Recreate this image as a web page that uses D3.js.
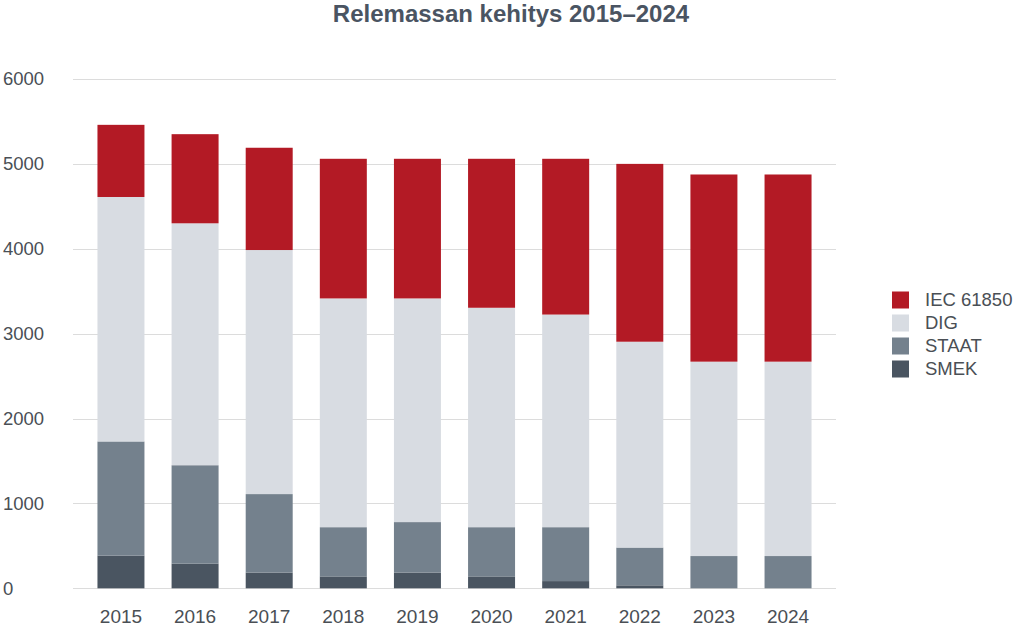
<!DOCTYPE html>
<html>
<head>
<meta charset="utf-8">
<script src="https://cdn.jsdelivr.net/npm/d3@7"></script>
<style>
  html, body { margin: 0; padding: 0; background: #ffffff; }
  svg { display: block; font-family: "Liberation Sans", Arial, sans-serif; }
</style>
</head>
<body>
<svg id="chart" width="1024" height="634"></svg>
<script>
const years = ["2015","2016","2017","2018","2019","2020","2021","2022","2023","2024"];
const seriesNames = ["SMEK", "STAAT", "DIG", "IEC 61850"];
const smek  = [385, 290, 185, 140, 185, 140, 85, 35, 0, 0];
const staat = [1345, 1160, 925, 580, 595, 580, 635, 445, 380, 380];
const dig   = [2880, 2850, 2875, 2695, 2635, 2585, 2505, 2425, 2290, 2290];
const iec   = [850, 1050, 1205, 1645, 1645, 1755, 1835, 2095, 2205, 2205];
const yTicks = [0, 1000, 2000, 3000, 4000, 5000, 6000];
const colors = {"SMEK": "#4a5561", "STAAT": "#74818d", "DIG": "#d8dce2", "IEC 61850": "#b31a25"};
const title = "Relemassan kehitys 2015\u20132024";

const rows = years.map((y, i) => ({year: y, "SMEK": smek[i], "STAAT": staat[i], "DIG": dig[i], "IEC 61850": iec[i]}));
const stacked = d3.stack().keys(seriesNames)(rows);

const svg = d3.select("#chart");
const x = d3.scaleBand().domain(years).range([73, 836]).paddingInner(0.366).paddingOuter(0.33);
const y = d3.scaleLinear().domain([0, 6000]).range([588.3, 79]);

// gridlines
svg.append("g").selectAll("line").data(yTicks).join("line")
  .attr("x1", 73).attr("x2", 836)
  .attr("y1", d => Math.round(y(d)) + 0.5).attr("y2", d => Math.round(y(d)) + 0.5)
  .attr("stroke", "#dcdcdc").attr("stroke-width", 1);

// y labels
svg.append("g").selectAll("text").data(yTicks).join("text")
  .attr("x", 3).attr("y", d => y(d)).attr("dy", "0.35em")
  .attr("font-size", 18.5).attr("fill", "#4a4f55")
  .text(d => d);

// bars
svg.append("g").selectAll("g").data(stacked).join("g")
  .attr("fill", s => colors[s.key])
  .selectAll("rect").data(s => s).join("rect")
  .attr("x", d => x(d.data.year))
  .attr("width", x.bandwidth())
  .attr("y", d => y(d[1]))
  .attr("height", d => Math.max(0, y(d[0]) - y(d[1])));

// x labels
svg.append("g").selectAll("text").data(years).join("text")
  .attr("x", d => x(d) + x.bandwidth() / 2).attr("y", 623)
  .attr("text-anchor", "middle")
  .attr("font-size", 19).attr("fill", "#4a4f55")
  .text(d => d);

// title
svg.append("text").attr("x", 511).attr("y", 22)
  .attr("text-anchor", "middle").attr("font-size", 24).attr("font-weight", "bold")
  .attr("fill", "#4a5462").text(title);

// legend
const legendOrder = ["IEC 61850", "DIG", "STAAT", "SMEK"];
const lg = svg.append("g").selectAll("g").data(legendOrder).join("g")
  .attr("transform", (d, i) => `translate(892, ${300 + i * 23})`);
lg.append("rect").attr("x", 0).attr("y", -8.5).attr("width", 17).attr("height", 17)
  .attr("fill", d => colors[d]);
lg.append("text").attr("x", 33).attr("y", 0).attr("dy", "0.35em")
  .attr("font-size", 18.5).attr("fill", "#4a4f55").text(d => d);
</script>
</body>
</html>
